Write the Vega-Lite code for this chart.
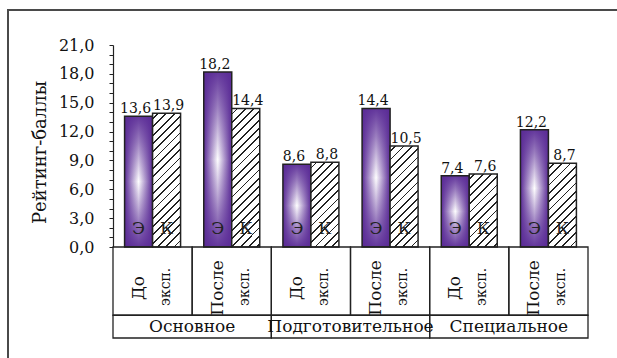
{
  "$schema": "https://vega.github.io/schema/vega-lite/v6.json",
  "width": 613,
  "height": 352,
  "autosize": {"type": "none"},
  "padding": {"left": 8, "top": 10, "right": -4, "bottom": -4},
  "background": "#ffffff",
  "config": {
    "font": "DejaVu Serif",
    "view": {"stroke": "#4a4a4a", "strokeWidth": 2},
    "locale": {"number": {"decimal": ",", "thousands": " ", "grouping": [3], "currency": ["", ""]}}
  },
  "params": [
    {"name": "hatch", "value": [
      {"offset": 0, "color": "#fff"},
      {"offset": 0.02, "color": "#fff"}, {"offset": 0.02, "color": "#222"}, {"offset": 0.0275, "color": "#222"}, {"offset": 0.0275, "color": "#fff"},
      {"offset": 0.0546, "color": "#fff"}, {"offset": 0.0546, "color": "#222"}, {"offset": 0.0621, "color": "#222"}, {"offset": 0.0621, "color": "#fff"},
      {"offset": 0.0892, "color": "#fff"}, {"offset": 0.0892, "color": "#222"}, {"offset": 0.0967, "color": "#222"}, {"offset": 0.0967, "color": "#fff"},
      {"offset": 0.1238, "color": "#fff"}, {"offset": 0.1238, "color": "#222"}, {"offset": 0.1313, "color": "#222"}, {"offset": 0.1313, "color": "#fff"},
      {"offset": 0.1584, "color": "#fff"}, {"offset": 0.1584, "color": "#222"}, {"offset": 0.1659, "color": "#222"}, {"offset": 0.1659, "color": "#fff"},
      {"offset": 0.193, "color": "#fff"}, {"offset": 0.193, "color": "#222"}, {"offset": 0.2005, "color": "#222"}, {"offset": 0.2005, "color": "#fff"},
      {"offset": 0.2276, "color": "#fff"}, {"offset": 0.2276, "color": "#222"}, {"offset": 0.2351, "color": "#222"}, {"offset": 0.2351, "color": "#fff"},
      {"offset": 0.2622, "color": "#fff"}, {"offset": 0.2622, "color": "#222"}, {"offset": 0.2697, "color": "#222"}, {"offset": 0.2697, "color": "#fff"},
      {"offset": 0.2968, "color": "#fff"}, {"offset": 0.2968, "color": "#222"}, {"offset": 0.3043, "color": "#222"}, {"offset": 0.3043, "color": "#fff"},
      {"offset": 0.3314, "color": "#fff"}, {"offset": 0.3314, "color": "#222"}, {"offset": 0.3389, "color": "#222"}, {"offset": 0.3389, "color": "#fff"},
      {"offset": 0.366, "color": "#fff"}, {"offset": 0.366, "color": "#222"}, {"offset": 0.3735, "color": "#222"}, {"offset": 0.3735, "color": "#fff"},
      {"offset": 0.4006, "color": "#fff"}, {"offset": 0.4006, "color": "#222"}, {"offset": 0.4081, "color": "#222"}, {"offset": 0.4081, "color": "#fff"},
      {"offset": 0.4352, "color": "#fff"}, {"offset": 0.4352, "color": "#222"}, {"offset": 0.4427, "color": "#222"}, {"offset": 0.4427, "color": "#fff"},
      {"offset": 0.4698, "color": "#fff"}, {"offset": 0.4698, "color": "#222"}, {"offset": 0.4773, "color": "#222"}, {"offset": 0.4773, "color": "#fff"},
      {"offset": 0.5044, "color": "#fff"}, {"offset": 0.5044, "color": "#222"}, {"offset": 0.5119, "color": "#222"}, {"offset": 0.5119, "color": "#fff"},
      {"offset": 0.539, "color": "#fff"}, {"offset": 0.539, "color": "#222"}, {"offset": 0.5465, "color": "#222"}, {"offset": 0.5465, "color": "#fff"},
      {"offset": 0.5736, "color": "#fff"}, {"offset": 0.5736, "color": "#222"}, {"offset": 0.5811, "color": "#222"}, {"offset": 0.5811, "color": "#fff"},
      {"offset": 0.6082, "color": "#fff"}, {"offset": 0.6082, "color": "#222"}, {"offset": 0.6157, "color": "#222"}, {"offset": 0.6157, "color": "#fff"},
      {"offset": 0.6428, "color": "#fff"}, {"offset": 0.6428, "color": "#222"}, {"offset": 0.6503, "color": "#222"}, {"offset": 0.6503, "color": "#fff"},
      {"offset": 0.6774, "color": "#fff"}, {"offset": 0.6774, "color": "#222"}, {"offset": 0.6849, "color": "#222"}, {"offset": 0.6849, "color": "#fff"},
      {"offset": 0.712, "color": "#fff"}, {"offset": 0.712, "color": "#222"}, {"offset": 0.7195, "color": "#222"}, {"offset": 0.7195, "color": "#fff"},
      {"offset": 0.7466, "color": "#fff"}, {"offset": 0.7466, "color": "#222"}, {"offset": 0.7541, "color": "#222"}, {"offset": 0.7541, "color": "#fff"},
      {"offset": 0.7812, "color": "#fff"}, {"offset": 0.7812, "color": "#222"}, {"offset": 0.7887, "color": "#222"}, {"offset": 0.7887, "color": "#fff"},
      {"offset": 0.8158, "color": "#fff"}, {"offset": 0.8158, "color": "#222"}, {"offset": 0.8233, "color": "#222"}, {"offset": 0.8233, "color": "#fff"},
      {"offset": 0.8504, "color": "#fff"}, {"offset": 0.8504, "color": "#222"}, {"offset": 0.8579, "color": "#222"}, {"offset": 0.8579, "color": "#fff"},
      {"offset": 0.885, "color": "#fff"}, {"offset": 0.885, "color": "#222"}, {"offset": 0.8925, "color": "#222"}, {"offset": 0.8925, "color": "#fff"},
      {"offset": 0.9196, "color": "#fff"}, {"offset": 0.9196, "color": "#222"}, {"offset": 0.9271, "color": "#222"}, {"offset": 0.9271, "color": "#fff"},
      {"offset": 0.9542, "color": "#fff"}, {"offset": 0.9542, "color": "#222"}, {"offset": 0.9617, "color": "#222"}, {"offset": 0.9617, "color": "#fff"},
      {"offset": 0.9888, "color": "#fff"}, {"offset": 0.9888, "color": "#222"}, {"offset": 0.9963, "color": "#222"}, {"offset": 0.9963, "color": "#fff"},
      {"offset": 1, "color": "#fff"}
    ]}
  ],
  "datasets": {
    "bars": [
      {"group": "Основное", "cell": "Основное / До эксп.", "series": "Э", "value": 13.6},
      {"group": "Основное", "cell": "Основное / До эксп.", "series": "К", "value": 13.9},
      {"group": "Основное", "cell": "Основное / После эксп.", "series": "Э", "value": 18.2},
      {"group": "Основное", "cell": "Основное / После эксп.", "series": "К", "value": 14.4},
      {"group": "Подготовительное", "cell": "Подготовительное / До эксп.", "series": "Э", "value": 8.6},
      {"group": "Подготовительное", "cell": "Подготовительное / До эксп.", "series": "К", "value": 8.8},
      {"group": "Подготовительное", "cell": "Подготовительное / После эксп.", "series": "Э", "value": 14.4},
      {"group": "Подготовительное", "cell": "Подготовительное / После эксп.", "series": "К", "value": 10.5},
      {"group": "Специальное", "cell": "Специальное / До эксп.", "series": "Э", "value": 7.4},
      {"group": "Специальное", "cell": "Специальное / До эксп.", "series": "К", "value": 7.6},
      {"group": "Специальное", "cell": "Специальное / После эксп.", "series": "Э", "value": 12.2},
      {"group": "Специальное", "cell": "Специальное / После эксп.", "series": "К", "value": 8.7}
    ],
    "cells": [
      {"cell": "Основное / До эксп.", "w1": "До", "w2": "эксп."},
      {"cell": "Основное / После эксп.", "w1": "После", "w2": "эксп."},
      {"cell": "Подготовительное / До эксп.", "w1": "До", "w2": "эксп."},
      {"cell": "Подготовительное / После эксп.", "w1": "После", "w2": "эксп."},
      {"cell": "Специальное / До эксп.", "w1": "До", "w2": "эксп."},
      {"cell": "Специальное / После эксп.", "w1": "После", "w2": "эксп."}
    ],
    "groups": [
      {"group": "Основное"},
      {"group": "Подготовительное"},
      {"group": "Специальное"}
    ]
  },
  "layer": [
    {
      "data": {"name": "bars"},
      "encoding": {
        "x": {"field": "cell", "type": "nominal", "sort": null,
              "scale": {"range": [105, 580], "paddingInner": 0, "paddingOuter": 0}, "axis": null},
        "xOffset": {"field": "series", "type": "nominal",
                    "scale": {"domain": ["Э", "К"], "paddingOuter": 0.414, "paddingInner": 0}},
        "y": {"field": "value", "type": "quantitative",
              "scale": {"domain": [0, 21], "range": [237, 35], "nice": false, "zero": true},
              "axis": {
                "values": [0,1,2,3,4,5,6,7,8,9,10,11,12,13,14,15,16,17,18,19,20,21],
                "labelExpr": "datum.value % 3 === 0 ? replace(format(datum.value, '.1f'), '.', ',') : ''",
                "labelOverlap": false,
                "labelFontSize": 16,
                "labelColor": "#111",
                "labelPadding": 15,
                "tickSize": 4,
                "tickColor": "#222",
                "tickWidth": 1,
                "domainColor": "#222",
                "domainWidth": 1.2,
                "grid": false,
                "offset": -105,
                "title": "Рейтинг-баллы",
                "titleFontSize": 18,
                "titleFontWeight": "normal",
                "titleColor": "#111",
                "titlePadding": 9,
                "titleY": 142
              }}
      },
      "layer": [
        {
          "transform": [{"filter": "datum.series === 'Э'"}],
          "mark": {"type": "bar", "fill": {"gradient": "linear", "x1": 0, "y1": 0, "x2": 1, "y2": 0,
            "stops": [
              {"offset": 0, "color": "#5a2b96"},
              {"offset": 0.5, "color": "#ffffff"},
              {"offset": 1, "color": "#5a2b96"}
            ]}}
        },
        {
          "transform": [{"filter": "datum.series === 'Э'"}],
          "mark": {"type": "bar", "stroke": "#222", "strokeWidth": 1.5,
            "fill": {"gradient": "linear", "x1": 0, "y1": 0, "x2": 0, "y2": 1,
              "stops": [
                {"offset": 0, "color": "rgba(90,43,150,0.95)"},
                {"offset": 0.2, "color": "rgba(90,43,150,0.6)"},
                {"offset": 0.5, "color": "rgba(90,43,150,0)"},
                {"offset": 0.8, "color": "rgba(90,43,150,0.6)"},
                {"offset": 1, "color": "rgba(90,43,150,0.95)"}
              ]}}
        },
        {
          "transform": [{"filter": "datum.series === 'К'"}],
          "mark": {"type": "bar", "stroke": "#222", "strokeWidth": 1.5,
            "fill": {"expr": "{gradient: 'linear', x1: 0, y1: 0, x2: 6720 / (784 + pow(datum.value * 9.619, 2)), y2: 240 * datum.value * 9.619 / (784 + pow(datum.value * 9.619, 2)), stops: hatch}"}}
        },
        {
          "transform": [{"filter": "datum.series === 'Э'"}],
          "mark": {"type": "text", "baseline": "alphabetic", "dy": -3, "dx": -3, "fontSize": 14, "fill": "#111"},
          "encoding": {"text": {"field": "value", "type": "quantitative", "format": ".1f"}}
        },
        {
          "transform": [{"filter": "datum.series === 'К'"}],
          "mark": {"type": "text", "baseline": "alphabetic", "dy": -3, "dx": 2, "fontSize": 14, "fill": "#111"},
          "encoding": {"text": {"field": "value", "type": "quantitative", "format": ".1f"}}
        },
        {
          "mark": {"type": "text", "baseline": "middle", "fontSize": 17, "fill": "#222"},
          "encoding": {
            "text": {"field": "series", "type": "nominal"},
            "y": {"datum": 1.9, "type": "quantitative"}
          }
        }
      ]
    },
    {
      "layer": [
        {
          "data": {"name": "cells"},
          "encoding": {
            "x": {"field": "cell", "type": "nominal", "sort": null,
                  "scale": {"range": [105, 580], "paddingInner": 0, "paddingOuter": 0}, "axis": null}
          },
          "layer": [
            {
              "mark": {"type": "rect", "fill": "transparent", "stroke": "#222", "strokeWidth": 1.3},
              "encoding": {
                "y": {"datum": 0, "type": "quantitative", "scale": {"domain": [0, 4], "range": [237, 328], "nice": false, "zero": false}, "axis": null},
                "y2": {"datum": 3}
              }
            },
            {
              "mark": {"type": "text", "angle": 270, "align": "center", "baseline": "middle", "dy": -14, "fontSize": 17, "fill": "#111"},
              "encoding": {
                "text": {"field": "w1", "type": "nominal"},
                "y": {"datum": 1.8, "type": "quantitative"}
              }
            },
            {
              "mark": {"type": "text", "angle": 270, "align": "center", "baseline": "middle", "dy": 13, "fontSize": 14, "fill": "#111"},
              "encoding": {
                "text": {"field": "w2", "type": "nominal"},
                "y": {"datum": 1.75, "type": "quantitative"}
              }
            }
          ]
        },
        {
          "data": {"name": "groups"},
          "encoding": {
            "x": {"field": "group", "type": "nominal", "sort": null,
                  "scale": {"range": [105, 580], "paddingInner": 0, "paddingOuter": 0}, "axis": null}
          },
          "layer": [
            {
              "mark": {"type": "rect", "fill": "transparent", "stroke": "#222", "strokeWidth": 1.3},
              "encoding": {
                "y": {"datum": 3, "type": "quantitative", "scale": {"domain": [0, 4], "range": [237, 328], "nice": false, "zero": false}, "axis": null},
                "y2": {"datum": 4}
              }
            },
            {
              "mark": {"type": "text", "align": "center", "baseline": "middle", "fontSize": 17, "fill": "#111"},
              "encoding": {
                "text": {"field": "group", "type": "nominal"},
                "y": {"datum": 3.5, "type": "quantitative"}
              }
            }
          ]
        }
      ],
      "resolve": {"scale": {"x": "independent"}}
    }
  ],
  "resolve": {"scale": {"x": "independent", "y": "independent", "xOffset": "independent"}, "axis": {"x": "independent", "y": "independent"}}
}
